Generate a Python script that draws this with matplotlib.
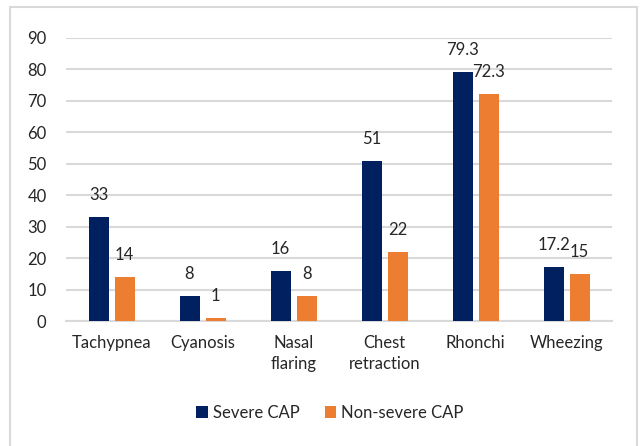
import matplotlib
matplotlib.use("Agg")
import matplotlib.pyplot as plt
import numpy as np
from matplotlib.patches import Rectangle

categories = ["Tachypnea", "Cyanosis", "Nasal\nflaring", "Chest\nretraction", "Rhonchi", "Wheezing"]
severe = [33, 8, 16, 51, 79.3, 17.2]
non_severe = [14, 1, 8, 22, 72.3, 15]
severe_labels = ["33", "8", "16", "51", "79.3", "17.2"]
non_severe_labels = ["14", "1", "8", "22", "72.3", "15"]

plt.rcParams["font.family"] = ["Lato", "DejaVu Sans"]

navy = "#002060"
orange = "#ED7D31"
grid = "#d9d9d9"
txt = "#262626"
fs = 12

fig = plt.figure(figsize=(6.41, 4.46), dpi=100)
ax = fig.add_axes([0.103, 0.28, 0.852, 0.635])

x = np.arange(len(categories))
w = 0.22
off = 0.143
b1 = ax.bar(x - off, severe, w, color=navy, label="Severe CAP", zorder=3)
b2 = ax.bar(x + off, non_severe, w, color=orange, label="Non-severe CAP", zorder=3)

# value labels above bars
for bars, labs in [(b1, severe_labels), (b2, non_severe_labels)]:
    for b, lab in zip(bars, labs):
        ax.annotate(lab, (b.get_x() + b.get_width() / 2, b.get_height()),
                    xytext=(0, 14), textcoords="offset pixels",
                    ha="center", va="bottom", fontsize=fs, color=txt)

ax.set_ylim(0, 90)
ax.set_xlim(-0.5, len(categories) - 0.5)
ax.set_yticks(np.arange(0, 91, 10))
ax.set_xticks(x)
ax.set_xticklabels(categories, fontsize=fs, color=txt, linespacing=1.35)
ax.tick_params(axis="y", labelsize=fs, labelcolor=txt, length=0, pad=14)
ax.tick_params(axis="x", length=0, pad=10)
ax.yaxis.grid(True, color=grid, linewidth=1.5, zorder=0)
for s in ["top", "right", "left"]:
    ax.spines[s].set_visible(False)
ax.spines["bottom"].set_color(grid)
ax.spines["bottom"].set_linewidth(1.5)

fig.legend(handles=[b1, b2], loc="center", bbox_to_anchor=(0.515, 0.075),
           ncol=2, frameon=False, fontsize=fs, handlelength=0.7,
           handleheight=0.7, handletextpad=0.3, columnspacing=1.5,
           labelcolor=txt)

# outer chart border
fig.patches.append(Rectangle((10 / 641, -0.05), 627 / 641, 1.05 - 7 / 446,
                             transform=fig.transFigure, fill=False,
                             edgecolor=grid, linewidth=1.5))

fig.savefig("out.png", dpi=100)
